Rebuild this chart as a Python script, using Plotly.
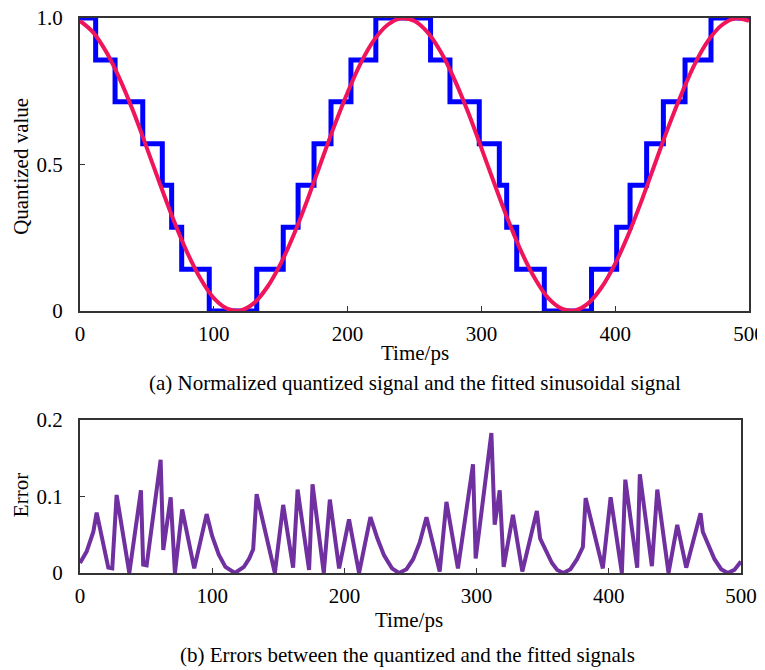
import plotly.graph_objects as go

# ---------------- data ----------------
# quantized (3-bit) signal: start time of each level, in ps
step_times = [0, 11.7, 26.2, 46.9, 61.5, 68.5, 76.0, 96.6,
              132.1, 151.9, 163.0, 174.9, 187.6, 202.5, 221.1,
              262.0, 276.5, 298.4, 313.4, 318.9, 326.4, 347.0,
              382.3, 401.1, 411.1, 423.5, 436.0, 452.2, 471.6, 500]
step_levels = [1.0, 0.857, 0.714, 0.571, 0.429, 0.286, 0.143, 0.0,
               0.143, 0.286, 0.429, 0.571, 0.714, 0.857, 1.0,
               0.857, 0.714, 0.571, 0.429, 0.286, 0.143, 0.0,
               0.143, 0.286, 0.429, 0.571, 0.714, 0.857, 1.0, 1.0]

# fitted sinusoidal signal, read every 10 ps
fit_t = [0, 10, 20, 30, 40, 50, 60, 70, 80, 90, 100, 110, 120, 130, 140, 150,
         160, 170, 180, 190, 200, 210, 220, 230, 240, 250, 260, 270, 280, 290,
         300, 310, 320, 330, 340, 350, 360, 370, 380, 390, 400, 410, 420, 430,
         440, 450, 460, 470, 480, 490, 500]
fit_v = [0.990, 0.950, 0.881, 0.789, 0.679, 0.556, 0.431, 0.310, 0.201, 0.111,
         0.044, 0.008, 0.002, 0.027, 0.082, 0.162, 0.263, 0.380, 0.506, 0.631,
         0.746, 0.848, 0.926, 0.977, 0.999, 0.990, 0.950, 0.881, 0.789, 0.679,
         0.556, 0.431, 0.310, 0.201, 0.111, 0.044, 0.008, 0.002, 0.027, 0.082,
         0.162, 0.263, 0.380, 0.506, 0.631, 0.746, 0.848, 0.926, 0.977, 0.999,
         0.990]

# error between quantized and fitted signals
err_t = [0, 5, 10.1, 12.6, 21.4, 24.4, 27.7, 37.3, 46.1, 47.8, 50.4, 61.0, 63.0,
         68.6, 71.8, 77.3, 86.4, 95.8, 100, 105, 110, 117.2, 124, 128, 131.0,
         133.6, 147.4, 153.7, 161.2, 164.6, 173.3, 175.9, 184.4, 189.0, 196.0,
         203.5, 211.1, 219.7, 225, 230, 236, 241.3, 247, 252, 257, 262.1, 272.1,
         277.2, 285.9, 297.3, 299.3, 311.2, 313.7, 317.5, 320.5, 327.5, 334.6,
         345.6, 348.1, 352, 357, 361, 365.7, 371, 376, 380.4, 382.5, 395.5,
         401.4, 409.9, 412.5, 421.5, 423.5, 432.6, 436.7, 445.2, 451.8, 458.6,
         469.4, 471.1, 475, 480, 485, 490.0, 495, 500]
err_v = [0.013, 0.028, 0.054, 0.079, 0.007, 0.006, 0.102, 0.0, 0.108, 0.011,
         0.010, 0.148, 0.030, 0.099, 0.0, 0.083, 0.006, 0.077, 0.048, 0.024,
         0.008, 0.0, 0.008, 0.019, 0.031, 0.103, 0.0, 0.089, 0.007, 0.109,
         0.004, 0.116, 0.0, 0.096, 0.006, 0.070, 0.0, 0.073, 0.045, 0.023,
         0.006, 0.0, 0.005, 0.018, 0.040, 0.073, 0.002, 0.093, 0.006, 0.142,
         0.019, 0.183, 0.063, 0.108, 0.008, 0.076, 0.002, 0.081, 0.045, 0.030,
         0.013, 0.004, 0.0, 0.005, 0.018, 0.034, 0.098, 0.006, 0.099, 0.0,
         0.122, 0.007, 0.129, 0.009, 0.109, 0.0, 0.063, 0.007, 0.078, 0.054,
         0.038, 0.018, 0.005, 0.0, 0.004, 0.015]

x_ticks = [0, 100, 200, 300, 400, 500]
y1_ticks = [0, 0.5, 1.0]
y1_labels = ["0", "0.5", "1.0"]
y2_ticks = [0, 0.1, 0.2]
y2_labels = ["0", "0.1", "0.2"]

# ---------------- figure ----------------
FONT = "Liberation Serif, Times New Roman, serif"
FS = 21
fig = go.Figure()

fig.add_trace(go.Scatter(x=step_times, y=step_levels, mode="lines",
                         line=dict(color="#0000FF", width=5, shape="hv"),
                         xaxis="x", yaxis="y", showlegend=False))
fig.add_trace(go.Scatter(x=fit_t, y=fit_v, mode="lines",
                         line=dict(color="#F0145A", width=4, shape="spline"),
                         xaxis="x", yaxis="y", showlegend=False))
fig.add_trace(go.Scatter(x=err_t, y=err_v, mode="lines",
                         line=dict(color="#7030A0", width=4),
                         xaxis="x2", yaxis="y2", showlegend=False))

axis_common = dict(showline=True, linecolor="#333333", linewidth=2, mirror=True,
                   ticks="inside", ticklen=5, tickwidth=1.2, tickcolor="#333333",
                   showgrid=False, zeroline=False, automargin=False,
                   ticklabeloverflow="allow",
                   tickfont=dict(family=FONT, size=FS, color="black"))

# the page adds an 8px body margin, so the figure is 8px smaller than the window
fig.update_layout(
    width=757, height=662,
    margin=dict(l=72, r=16, t=10, b=97),
    paper_bgcolor="white", plot_bgcolor="white",
    font=dict(family=FONT, size=FS, color="black"),
    xaxis=dict(domain=[0, 1], range=[0, 500], tickvals=x_ticks,
               anchor="y", ticklabelstandoff=3, **axis_common),
    yaxis=dict(domain=[0.472, 1], range=[0, 1], tickvals=y1_ticks,
               ticktext=y1_labels, anchor="x", ticklabelstandoff=11, **axis_common),
    xaxis2=dict(domain=[0, 0.988], range=[0, 500], tickvals=x_ticks,
                anchor="y2", ticklabelstandoff=3, **axis_common),
    yaxis2=dict(domain=[0, 0.2757], range=[0, 0.2], tickvals=y2_ticks,
                ticktext=y2_labels, anchor="x2", ticklabelstandoff=11, **axis_common),
)

ann = dict(xref="paper", yref="paper", showarrow=False,
           font=dict(family=FONT, size=FS, color="black"))
fig.add_annotation(text="Time/ps", x=0.5, y=0.396, xanchor="center", yanchor="middle", **ann)
fig.add_annotation(text="(a) Normalized quantized signal and the fitted sinusoidal signal",
                   x=0.5, y=0.342, xanchor="center", yanchor="middle", **ann)
fig.add_annotation(text="Time/ps", x=0.492, y=-0.0847, xanchor="center", yanchor="middle", **ann)
fig.add_annotation(text="(b) Errors between the quantized and the fitted signals",
                   x=0.49, y=-0.148, xanchor="center", yanchor="middle", **ann)
fig.add_annotation(text="Quantized value", x=-0.088, y=0.732, textangle=-90,
                   xanchor="center", yanchor="middle", **ann)
fig.add_annotation(text="Error", x=-0.088, y=0.1405, textangle=-90,
                   xanchor="center", yanchor="middle", **ann)

fig.write_html("out.html")
